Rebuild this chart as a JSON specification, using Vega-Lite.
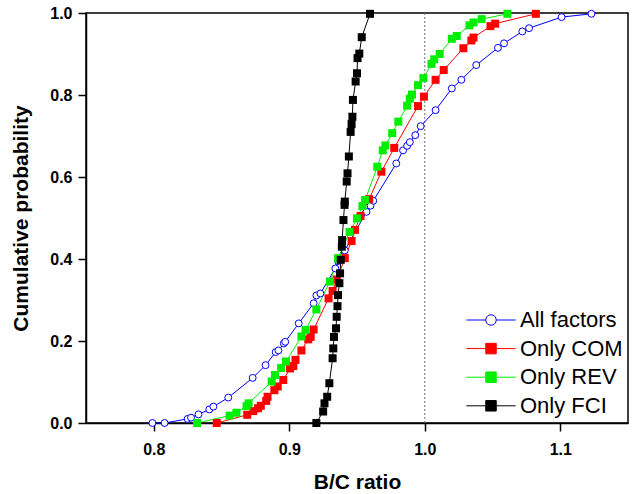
{
  "$schema": "https://vega.github.io/schema/vega-lite/v6.json",
  "width": 542,
  "height": 410,
  "autosize": {"type": "none"},
  "padding": {"left": 86, "top": 13, "right": 7, "bottom": 71},
  "background": "white",
  "config": {
    "font": "Arial, Liberation Sans, sans-serif",
    "view": {"stroke": "black", "strokeWidth": 1.5},
    "axis": {
      "grid": false,
      "domainColor": "black", "domainWidth": 1.5,
      "tickColor": "black", "tickWidth": 1.5, "tickSize": 8,
      "labelFont": "Arial, Liberation Sans", "labelFontSize": 16, "labelFontWeight": "bold", "labelColor": "black",
      "labelFlush": false, "labelOverlap": false,
      "titleFont": "Arial, Liberation Sans", "titleFontSize": 21, "titleFontWeight": "bold", "titleColor": "black"
    }
  },
  "datasets": {
    "cdf": [
      {"s":"All factors","x":0.799,"p":0},{"s":"All factors","x":0.808,"p":0},{"s":"All factors","x":0.825,"p":0.010},{"s":"All factors","x":0.8275,"p":0.013},{"s":"All factors","x":0.833,"p":0.021},{"s":"All factors","x":0.841,"p":0.033},{"s":"All factors","x":0.844,"p":0.040},{"s":"All factors","x":0.855,"p":0.062},{"s":"All factors","x":0.873,"p":0.110},{"s":"All factors","x":0.8825,"p":0.141},{"s":"All factors","x":0.890,"p":0.173},{"s":"All factors","x":0.892,"p":0.177},{"s":"All factors","x":0.896,"p":0.194},{"s":"All factors","x":0.897,"p":0.198},{"s":"All factors","x":0.907,"p":0.243},{"s":"All factors","x":0.918,"p":0.292},{"s":"All factors","x":0.920,"p":0.311},{"s":"All factors","x":0.923,"p":0.316},{"s":"All factors","x":0.934,"p":0.377},{"s":"All factors","x":0.936,"p":0.395},{"s":"All factors","x":0.941,"p":0.421},{"s":"All factors","x":0.957,"p":0.515},{"s":"All factors","x":0.960,"p":0.530},{"s":"All factors","x":0.962,"p":0.542},{"s":"All factors","x":0.979,"p":0.633},{"s":"All factors","x":0.984,"p":0.665},{"s":"All factors","x":0.987,"p":0.676},{"s":"All factors","x":0.989,"p":0.685},{"s":"All factors","x":0.993,"p":0.702},{"s":"All factors","x":0.997,"p":0.724},{"s":"All factors","x":1.008,"p":0.763},{"s":"All factors","x":1.020,"p":0.816},{"s":"All factors","x":1.027,"p":0.837},{"s":"All factors","x":1.038,"p":0.873},{"s":"All factors","x":1.054,"p":0.915},{"s":"All factors","x":1.0585,"p":0.926},{"s":"All factors","x":1.072,"p":0.955},{"s":"All factors","x":1.077,"p":0.963},{"s":"All factors","x":1.101,"p":0.990},{"s":"All factors","x":1.123,"p":0.998},
      {"s":"Only COM","x":0.8465,"p":0},{"s":"Only COM","x":0.869,"p":0.020},{"s":"Only COM","x":0.8735,"p":0.029},{"s":"Only COM","x":0.877,"p":0.036},{"s":"Only COM","x":0.879,"p":0.042},{"s":"Only COM","x":0.883,"p":0.054},{"s":"Only COM","x":0.884,"p":0.064},{"s":"Only COM","x":0.889,"p":0.080},{"s":"Only COM","x":0.8915,"p":0.089},{"s":"Only COM","x":0.8956,"p":0.105},{"s":"Only COM","x":0.9006,"p":0.133},{"s":"Only COM","x":0.903,"p":0.139},{"s":"Only COM","x":0.9046,"p":0.154},{"s":"Only COM","x":0.909,"p":0.177},{"s":"Only COM","x":0.914,"p":0.204},{"s":"Only COM","x":0.9158,"p":0.210},{"s":"Only COM","x":0.918,"p":0.228},{"s":"Only COM","x":0.929,"p":0.304},{"s":"Only COM","x":0.932,"p":0.322},{"s":"Only COM","x":0.935,"p":0.350},{"s":"Only COM","x":0.941,"p":0.402},{"s":"Only COM","x":0.946,"p":0.444},{"s":"Only COM","x":0.9485,"p":0.471},{"s":"Only COM","x":0.9526,"p":0.505},{"s":"Only COM","x":0.959,"p":0.546},{"s":"Only COM","x":0.968,"p":0.613},{"s":"Only COM","x":0.9775,"p":0.671},{"s":"Only COM","x":0.995,"p":0.773},{"s":"Only COM","x":0.9994,"p":0.796},{"s":"Only COM","x":1.008,"p":0.837},{"s":"Only COM","x":1.014,"p":0.861},{"s":"Only COM","x":1.0285,"p":0.914},{"s":"Only COM","x":1.0344,"p":0.933},{"s":"Only COM","x":1.036,"p":0.940},{"s":"Only COM","x":1.0485,"p":0.968},{"s":"Only COM","x":1.052,"p":0.974},{"s":"Only COM","x":1.082,"p":0.998},
      {"s":"Only REV","x":0.832,"p":0},{"s":"Only REV","x":0.856,"p":0.018},{"s":"Only REV","x":0.861,"p":0.025},{"s":"Only REV","x":0.8685,"p":0.041},{"s":"Only REV","x":0.870,"p":0.048},{"s":"Only REV","x":0.887,"p":0.101},{"s":"Only REV","x":0.8895,"p":0.117},{"s":"Only REV","x":0.894,"p":0.134},{"s":"Only REV","x":0.8976,"p":0.150},{"s":"Only REV","x":0.909,"p":0.211},{"s":"Only REV","x":0.912,"p":0.227},{"s":"Only REV","x":0.920,"p":0.277},{"s":"Only REV","x":0.930,"p":0.345},{"s":"Only REV","x":0.936,"p":0.402},{"s":"Only REV","x":0.9445,"p":0.466},{"s":"Only REV","x":0.950,"p":0.499},{"s":"Only REV","x":0.954,"p":0.529},{"s":"Only REV","x":0.956,"p":0.544},{"s":"Only REV","x":0.965,"p":0.625},{"s":"Only REV","x":0.969,"p":0.665},{"s":"Only REV","x":0.971,"p":0.677},{"s":"Only REV","x":0.976,"p":0.707},{"s":"Only REV","x":0.9805,"p":0.735},{"s":"Only REV","x":0.987,"p":0.774},{"s":"Only REV","x":0.989,"p":0.791},{"s":"Only REV","x":0.9906,"p":0.801},{"s":"Only REV","x":0.995,"p":0.824},{"s":"Only REV","x":0.999,"p":0.841},{"s":"Only REV","x":1.005,"p":0.876},{"s":"Only REV","x":1.007,"p":0.887},{"s":"Only REV","x":1.011,"p":0.900},{"s":"Only REV","x":1.020,"p":0.937},{"s":"Only REV","x":1.0236,"p":0.944},{"s":"Only REV","x":1.033,"p":0.970},{"s":"Only REV","x":1.036,"p":0.977},{"s":"Only REV","x":1.042,"p":0.985},{"s":"Only REV","x":1.061,"p":0.998},
      {"s":"Only FCI","x":0.920,"p":0},{"s":"Only FCI","x":0.925,"p":0.028},{"s":"Only FCI","x":0.926,"p":0.048},{"s":"Only FCI","x":0.928,"p":0.064},{"s":"Only FCI","x":0.9296,"p":0.097},{"s":"Only FCI","x":0.932,"p":0.158},{"s":"Only FCI","x":0.9325,"p":0.182},{"s":"Only FCI","x":0.933,"p":0.210},{"s":"Only FCI","x":0.9345,"p":0.231},{"s":"Only FCI","x":0.935,"p":0.259},{"s":"Only FCI","x":0.9356,"p":0.285},{"s":"Only FCI","x":0.936,"p":0.312},{"s":"Only FCI","x":0.937,"p":0.341},{"s":"Only FCI","x":0.9375,"p":0.365},{"s":"Only FCI","x":0.938,"p":0.398},{"s":"Only FCI","x":0.9388,"p":0.430},{"s":"Only FCI","x":0.939,"p":0.446},{"s":"Only FCI","x":0.940,"p":0.495},{"s":"Only FCI","x":0.9408,"p":0.532},{"s":"Only FCI","x":0.941,"p":0.540},{"s":"Only FCI","x":0.9424,"p":0.589},{"s":"Only FCI","x":0.943,"p":0.609},{"s":"Only FCI","x":0.944,"p":0.650},{"s":"Only FCI","x":0.9453,"p":0.710},{"s":"Only FCI","x":0.946,"p":0.729},{"s":"Only FCI","x":0.9466,"p":0.747},{"s":"Only FCI","x":0.947,"p":0.788},{"s":"Only FCI","x":0.949,"p":0.833},{"s":"Only FCI","x":0.950,"p":0.853},{"s":"Only FCI","x":0.9504,"p":0.890},{"s":"Only FCI","x":0.9517,"p":0.901},{"s":"Only FCI","x":0.9535,"p":0.941},{"s":"Only FCI","x":0.9596,"p":0.998}
    ],
    "ref": [{"r": 1.0}]
  },
  "encoding": {
    "x": {"field": "x", "type": "quantitative", "scale": {"domain": [0.75, 1.15], "nice": false, "zero": false},
          "axis": {"values": [0.8, 0.9, 1.0, 1.1], "format": ".1f", "labelPadding": 10, "titlePadding": 14, "title": "B/C ratio"}},
    "y": {"field": "p", "type": "quantitative", "scale": {"domain": [0, 1], "nice": false},
          "axis": {"values": [0, 0.2, 0.4, 0.6, 0.8, 1.0], "format": ".1f", "labelPadding": 6, "titlePadding": 18, "title": "Cumulative probability"}}
  },
  "layer": [
    {
      "data": {"name": "ref"},
      "mark": {"type": "rule", "strokeDash": [2, 2], "color": "#707070", "strokeWidth": 1},
      "encoding": {
        "x": {"field": "r", "type": "quantitative"},
        "y": null
      }
    },
    {
      "data": {"name": "cdf"},
      "mark": {"type": "line", "strokeWidth": 1},
      "encoding": {
        "stroke": {"field": "s", "type": "nominal",
          "scale": {"domain": ["All factors", "Only COM", "Only REV", "Only FCI"], "range": ["#0000ff", "#ff0000", "#00ee00", "#000000"]},
          "legend": {
            "title": null, "orient": "none", "legendX": 394, "legendY": 296,
            "symbolSize": 110, "symbolStrokeWidth": 1,
            "labelFont": "Arial, Liberation Sans", "labelFontSize": 22, "labelColor": "black", "labelOffset": 18,
            "rowPadding": 6.6, "padding": 0,
            "encode": {"symbols": {"update": {
              "shape": {"signal": "datum.value === 'All factors' ? 'M -4.7 0 H -1 M 1 0 H 4.7 M -1 0 A 1 1 0 1 0 1 0 A 1 1 0 1 0 -1 0 Z' : 'M -4.7 0 H -1 M 1 0 H 4.7 M -1 -1 H 1 V 1 H -1 Z'"},
              "fill": {"signal": "datum.value === 'All factors' ? 'white' : datum.value === 'Only COM' ? '#ff0000' : datum.value === 'Only REV' ? '#00ee00' : '#000000'"},
              "size": {"value": 110},
              "strokeWidth": {"value": 1},
              "opacity": {"value": 1}
            }}}
          }
        }
      }
    },
    {
      "data": {"name": "cdf"},
      "transform": [{"filter": "datum.s === 'All factors'"}],
      "mark": {"type": "point", "shape": "circle", "size": 48, "strokeWidth": 1, "stroke": "#0000ff", "fill": "white", "opacity": 1}
    },
    {
      "data": {"name": "cdf"},
      "transform": [{"filter": "datum.s === 'Only COM'"}],
      "mark": {"type": "point", "shape": "square", "size": 64, "filled": true, "color": "#ff0000", "opacity": 1}
    },
    {
      "data": {"name": "cdf"},
      "transform": [{"filter": "datum.s === 'Only REV'"}],
      "mark": {"type": "point", "shape": "square", "size": 64, "filled": true, "color": "#00ee00", "opacity": 1}
    },
    {
      "data": {"name": "cdf"},
      "transform": [{"filter": "datum.s === 'Only FCI'"}],
      "mark": {"type": "point", "shape": "square", "size": 64, "filled": true, "color": "#000000", "opacity": 1}
    }
  ]
}
